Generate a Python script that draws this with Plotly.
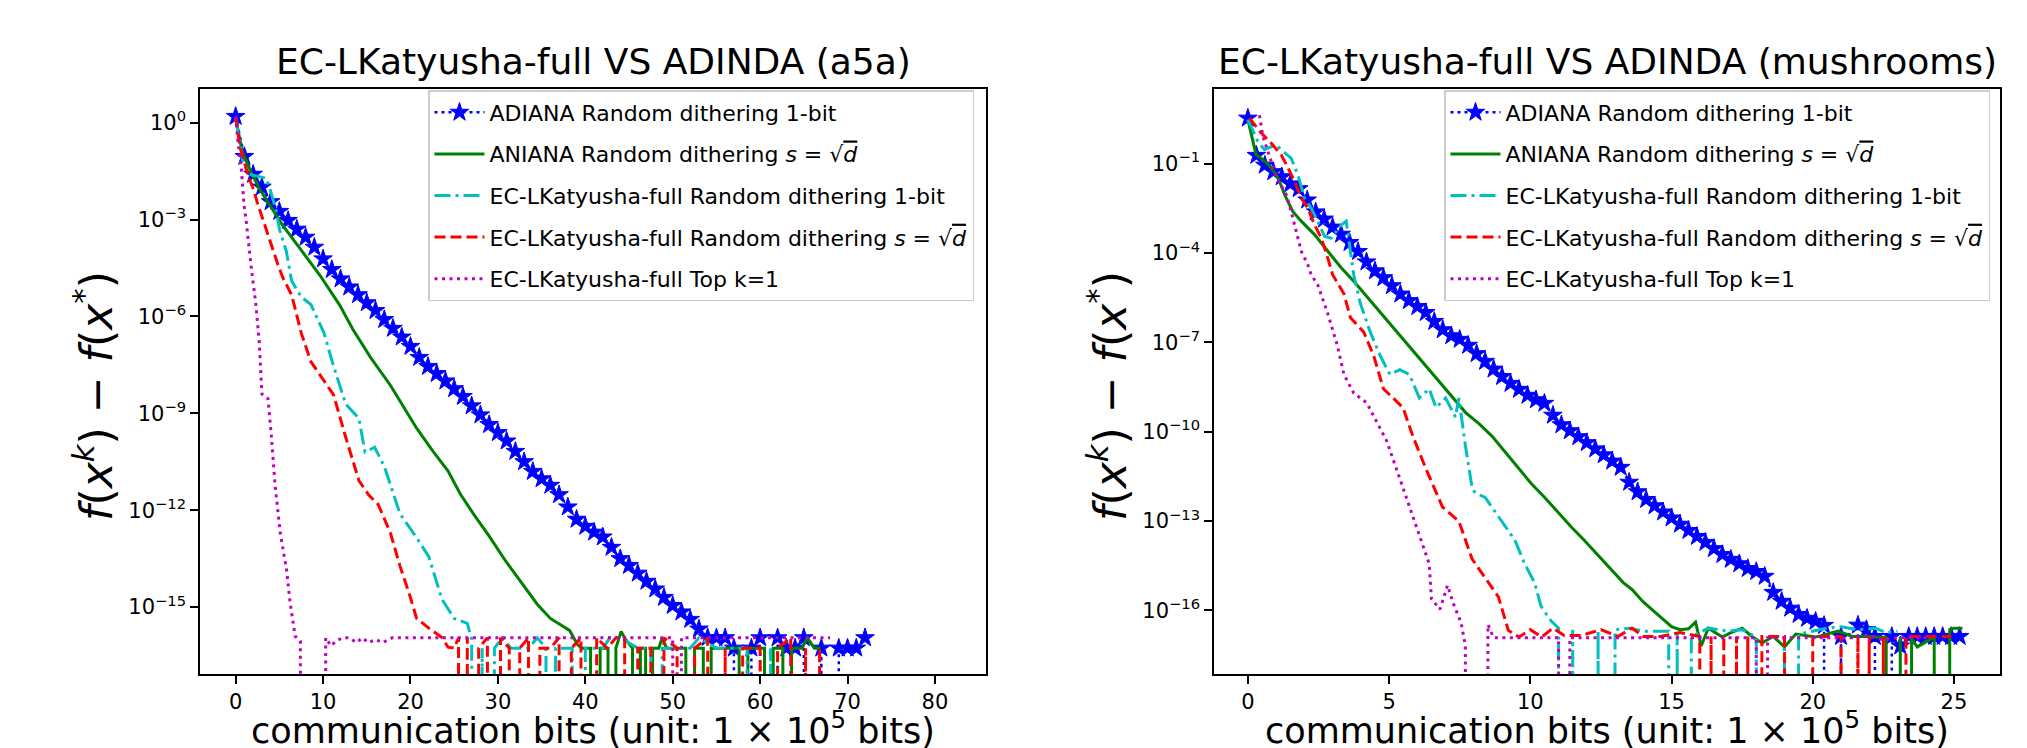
import plotly.graph_objects as go

W, H = 2027, 748
FONT = "DejaVu Sans"

# ---------------- data (log10 of f(x^k)-f(x*)) ----------------
# None marks a non-positive value (drawn clipped to the bottom of the log axis, like matplotlib)

SERIES_NAMES = [
    "ADIANA Random dithering 1-bit",
    "ANIANA Random dithering <i>s</i> = √<span style='text-decoration:overline'><i>d</i></span>",
    "EC-LKatyusha-full Random dithering 1-bit",
    "EC-LKatyusha-full Random dithering <i>s</i> = √<span style='text-decoration:overline'><i>d</i></span>",
    "EC-LKatyusha-full Top k=1",
]

TITLES = ["EC-LKatyusha-full VS ADINDA (a5a)", "EC-LKatyusha-full VS ADINDA (mushrooms)"]
XLABEL = "communication bits (unit: 1 × 10<sup>5</sup> bits)"
YLABEL = "<i>f</i>(<i>x</i><sup><i>k</i></sup>) − <i>f</i>(<i>x</i><sup>*</sup>)"

# ---- a5a ----
A5A_ADIANA_X = [0, 1, 2, 3, 4, 5, 6, 7, 8, 9, 10, 11, 12, 13, 14, 15, 16, 17, 18, 19, 20,
                21, 22, 23, 24, 25, 26, 27, 28, 29, 30, 31, 32, 33, 34, 35, 36, 37, 38, 39, 40,
                41, 42, 43, 44, 45, 46, 47, 48, 49, 50, 51, 52, 53, 54, 55, 56, 57, 58, 59, 60,
                61, 62, 63, 64, 65, 66, 67, 68, 69, 70, 71, 72]
A5A_ADIANA_LOG = [0.19, -1.05, -1.6, -2.0, -2.45, -2.75, -3.03, -3.3, -3.55, -3.86, -4.22,
                  -4.55, -4.84, -5.09, -5.33, -5.58, -5.82, -6.1, -6.37, -6.64, -6.93,
                  -7.27, -7.55, -7.77, -8.0, -8.24, -8.48, -8.77, -9.05, -9.35, -9.6,
                  -9.86, -10.18, -10.5, -10.8, -11.03, -11.23, -11.52, -11.9, -12.28, -12.5,
                  -12.68, -12.83, -13.15, -13.5, -13.71, -13.95, -14.2, -14.44, -14.7, -14.95,
                  -15.15, -15.38, -15.68, -15.94, -15.95, -15.95, -16.27, None, -16.27, -15.95,
                  None, -15.95, -16.27, -16.27, -15.95, None, -16.27, None, -16.27, -16.27,
                  -16.27, -15.95]

A5A_ANIANA_X = [0, 0.7, 1.7, 2.8, 3.9, 5.3, 7.5, 9.7, 11.9, 13.4, 15.5, 17.7, 20.7, 22.5, 24.3,
                25.7, 27.2, 29.0, 30.9, 32.7, 34.5, 36.0, 37.2, 38.2, 39.1, 39.6, 40.6, 41.2,
                41.7, 42.6, 43.0, 43.5, 44.1, 44.6, 45.4, 45.9, 46.3, 46.9, 47.3, 47.7, 48.4,
                48.8, 49.3, 51.5, 52.0, 52.5, 53.5, 54.0, 54.4, 57.6, 58.1, 58.6, 60.5, 61.0,
                61.5, 62.6, 63.1, 63.6, 64.8, 65.4, 66.2, 66.9]
A5A_ANIANA_LOG = [0.15, -0.84, -1.5, -2.09, -2.55, -3.15, -3.95, -4.75, -5.65, -6.4, -7.3, -8.13,
                  -9.46, -10.15, -10.79, -11.5, -12.11, -12.8, -13.58, -14.25, -14.91, -15.35,
                  -15.55, -15.72, -16.16, -16.27, -16.27, None, -16.27, -16.27, None, -16.27,
                  -15.75, -16.0, -16.27, None, -16.27, -16.27, None, -16.27, -16.27, -15.95,
                  -16.27, -16.27, None, -16.27, -16.27, None, -16.27, -16.27, None, -16.27,
                  -16.27, None, -16.27, -16.27, None, -16.27, -16.27, -15.95, -16.27, -16.27]

A5A_ECL_1BIT_X = [0, 0.26, 0.84, 1.79, 3.5, 3.9, 4.65, 5.03, 5.8, 6.4, 7.5, 8.6, 10.1, 11.2, 12.6,
                  14.1, 14.8, 15.9, 17.0, 18.8, 20.7, 22.1, 23.6, 25.0, 26.5, 27.0, 27.3, 28.2,
                  29.0, 29.6, 30.5, 31.5, 33.5, 34.5, 35.5, 36.0, 36.6, 38.5, 39.4, 40.0, 42.0,
                  42.8, 44.0, 46.0, 47.5, 48.2, 48.8, 50.0, 52.0, 53.0, 55.0, 57.0, 58.5, 60.6,
                  61.2, 62.0]
A5A_ECL_1BIT_LOG = [0.14, -0.27, -1.25, -1.62, -1.72, -2.03, -2.75, -3.32, -3.99, -4.9, -5.4,
                    -5.63, -6.51, -7.54, -8.72, -9.16, -10.2, -10.05, -10.64, -12.11, -12.85,
                    -13.44, -14.76, -15.35, -15.5, -16.0, None, -16.27, None, -16.27, -15.95,
                    -16.27, -16.27, -15.95, -16.27, None, -16.27, -16.27, None, -16.27, -16.27,
                    -15.95, -15.95, -16.27, -16.27, None, -16.27, -16.27, -16.27, -15.95,
                    -16.27, -16.27, -16.27, None, -16.27, None]

A5A_ECL_SQRT_X = [0, 0.45, 1.4, 1.98, 2.55, 3.3, 4.07, 4.84, 5.41, 6.4, 7.5, 8.6, 10.1, 11.2, 12.6,
                  14.1, 15.2, 16.3, 17.7, 18.8, 19.9, 20.7, 22.1, 23.6, 24.3, 25.0, 25.5, 25.7,
                  26.5, 27.2, 27.8, 28.8, 29.6, 30.3, 31.3, 31.9, 32.5, 33.5, 34.2, 34.8, 36.0,
                  37.0, 37.8, 38.4, 39.5, 40.6, 41.3, 42.5, 43.5, 44.5, 45.3, 46.0, 47.5, 48.3,
                  49.0, 50.5, 51.7, 52.5, 54.0, 55.2, 56.0, 57.2, 58.0, 60.0, 61.2, 62.0, 63.5,
                  64.6, 65.2, 66.0, 66.8, 67.8]
A5A_ECL_SQRT_LOG = [0.19, -0.69, -1.62, -2.03, -2.54, -3.16, -3.78, -4.4, -4.81, -5.33, -6.51,
                    -7.4, -7.99, -8.43, -9.75, -11.08, -11.52, -11.82, -12.7, -13.73, -14.62,
                    -15.35, -15.65, -15.94, -16.24, -16.27, -15.95, None, -15.95, None, -16.27,
                    -15.95, None, -15.95, -16.27, None, -16.27, -15.95, None, -16.27, -16.27,
                    -15.95, None, -16.27, -15.95, None, -15.95, -16.27, -15.95, -15.95, None,
                    -16.27, -16.27, None, -15.95, -16.27, None, -16.27, -15.95, None, -16.27,
                    None, -16.27, -16.27, None, -16.27, -15.95, None, -16.27, None, -16.27, None]

A5A_TOPK_X = [0, 0.26, 0.64, 0.95, 1.21, 1.41, 1.79, 2.3, 2.7, 3.0, 3.7, 4.1, 4.5, 5.1, 5.85, 6.2,
              6.8, 7.4, 7.9, 10.2, 10.3, 10.9, 11.5, 12.2, 13.0, 13.8, 14.5, 15.2, 16.0, 16.8,
              17.9, 24.0, 30.0, 36.0, 42.0, 48.0, 50.0, 50.5, 51.0, 56.0, 62.0, 66.0, 68.0]
A5A_TOPK_LOG = [0.19, -0.58, -1.41, -2.54, -3.06, -3.58, -4.5, -5.6, -6.8, -8.4, -8.55, -9.75,
                -11.2, -12.7, -13.9, -14.8, -15.9, -16.05, None, None, -15.95, -16.2, -16.05,
                -15.95, -15.95, -16.1, -15.95, -16.1, -16.0, -16.1, -15.95, -15.95, -15.95,
                -15.95, -15.95, -15.95, -15.95, None, -15.95, -15.95, -15.95, -15.95, -15.95]

# ---- mushrooms ----
MUSH_ADIANA_X = [0.0, 0.3, 0.6, 0.9, 1.2, 1.5, 1.8, 2.1, 2.4, 2.7, 3.0, 3.3, 3.6, 3.9, 4.2, 4.5,
                 4.8, 5.1, 5.4, 5.7, 6.0, 6.3, 6.6, 6.9, 7.2, 7.5, 7.8, 8.1, 8.4, 8.7, 9.0, 9.3,
                 9.6, 9.9, 10.2, 10.5, 10.8, 11.1, 11.4, 11.7, 12.0, 12.3, 12.6, 12.9, 13.2,
                 13.5, 13.8, 14.1, 14.4, 14.7, 15.0, 15.3, 15.6, 15.9, 16.2, 16.5, 16.8, 17.1,
                 17.4, 17.7, 18.0, 18.3, 18.6, 18.9, 19.2, 19.5, 19.8, 20.1, 20.4, 20.7, 21.0,
                 21.3, 21.6, 21.9, 22.2, 22.5, 22.8, 23.1, 23.4, 23.7, 24.0, 24.3, 24.6, 24.9,
                 25.2]
MUSH_ADIANA_LOG = [0.53, -0.72, -1.05, -1.27, -1.44, -1.68, -1.84, -2.22, -2.62, -2.86, -3.13,
                   -3.37, -3.65, -3.95, -4.3, -4.6, -4.83, -5.1, -5.38, -5.6, -5.8, -6.0, -6.3,
                   -6.58, -6.78, -6.9, -7.1, -7.38, -7.64, -7.9, -8.15, -8.38, -8.58, -8.78,
                   -8.93, -9.05, -9.45, -9.77, -9.97, -10.17, -10.37, -10.58, -10.78, -10.99,
                   -11.2, -11.7, -12.02, -12.28, -12.49, -12.7, -12.9, -13.11, -13.32, -13.52,
                   -13.72, -13.93, -14.13, -14.29, -14.44, -14.6, -14.7, -14.86, -15.4, -15.7,
                   -15.93, -16.14, -16.27, -16.37, -16.51, None, -16.88, None, -16.5, -16.65,
                   -16.88, None, -16.88, -17.2, -16.88, -16.88, -16.88, -16.88, -16.88, -16.88,
                   -16.88]

MUSH_ANIANA_X = [0, 0.29, 0.47, 0.75, 1.0, 1.12, 1.3, 1.59, 1.89, 2.36, 2.83, 3.31, 3.75, 4.2,
                 4.68, 5.25, 5.84, 6.4, 7.0, 7.7, 8.2, 8.64, 9.3, 10.03, 10.5, 10.96, 11.45, 11.9,
                 12.4, 12.83, 13.29, 13.6, 13.99, 14.4, 14.7, 15.0, 15.3, 15.6, 15.85, 16.05,
                 16.3, 16.8, 17.1, 17.5, 17.85, 18.2, 18.6, 19.0, 19.4, 19.7, 20.1, 20.5, 20.9,
                 21.4, 22.0, 22.6, 22.8, 23.1, 23.3, 23.5, 23.7, 24.3, 24.75, 24.85, 25.0, 25.3]
MUSH_ANIANA_LOG = [0.48, -0.7, -0.81, -1.05, -1.37, -1.59, -2.04, -2.6, -2.93, -3.38, -3.94,
                   -4.5, -4.95, -5.45, -6.01, -6.65, -7.28, -7.9, -8.56, -9.35, -9.75, -10.15,
                   -10.9, -11.74, -12.2, -12.69, -13.2, -13.64, -14.15, -14.6, -15.07, -15.3,
                   -15.71, -16.05, -16.3, -16.55, -16.65, -16.62, -16.4, -17.2, -16.6, -16.9,
                   -16.75, -16.6, -16.88, -17.1, -16.88, -17.23, -16.8, -16.85, -16.9, -16.8,
                   -16.7, -16.88, -16.88, -16.92, None, -16.9, None, -16.95, -17.23, -16.9, None,
                   -16.65, -16.6, -16.6]

MUSH_ECL_1BIT_X = [0, 0.35, 0.59, 1.0, 1.18, 1.53, 1.77, 2.0, 2.24, 2.5, 2.72, 2.95, 3.31, 3.48,
                   3.6, 3.75, 3.98, 4.33, 4.68, 5.03, 5.38, 5.72, 6.07, 6.42, 6.66, 7.0, 7.35,
                   7.47, 7.7, 7.94, 8.05, 8.4, 8.87, 9.45, 9.8, 10.15, 10.38, 10.73, 11.0, 11.2,
                   11.5, 12.1, 12.4, 12.65, 13.0, 13.5, 14.0, 14.9, 15.04, 15.2, 15.4, 15.7, 16.3,
                   17.0, 17.5, 18.0, 18.8, 19.0, 19.2, 19.5, 20.0, 20.5, 21.0, 21.6, 22.2, 22.6,
                   23.0]
MUSH_ECL_1BIT_LOG = [0.48, -0.25, -0.53, -0.36, -0.53, -0.81, -1.37, -2.15, -2.49, -3.0, -3.44,
                     -3.5, -3.05, -2.93, -3.8, -4.74, -5.69, -6.65, -7.44, -8.08, -7.92, -8.08,
                     -8.87, -8.56, -9.19, -8.87, -9.51, -8.87, -10.46, -11.9, -12.06, -12.21,
                     -12.85, -13.64, -14.44, -15.07, -15.87, -16.35, -16.6, None, -16.65, None,
                     -16.7, None, -16.65, -16.6, -16.7, -16.7, None, -16.75, None, -16.9, -16.6,
                     -16.7, -16.65, -16.9, None, -16.9, None, -16.8, -16.7, -16.6, -16.55,
                     -16.65, -16.6, -16.75, -16.7]

MUSH_ECL_SQRT_X = [0.06, 0.47, 0.77, 1.18, 1.42, 1.65, 1.89, 2.12, 2.36, 2.6, 2.83, 3.0, 3.4,
                   3.63, 4.1, 4.45, 4.8, 5.14, 5.49, 5.84, 6.31, 6.89, 7.47, 7.94, 8.52, 8.87,
                   9.22, 9.6, 10.0, 10.4, 10.8, 11.2, 11.8, 12.5, 13.1, 13.6, 14.0, 14.6, 15.3,
                   16.0, 16.15, 16.4, 16.6, 16.85, 17.1, 17.3, 17.5, 17.7, 17.85, 18.2, 19.0,
                   19.75, 20.0, 21.0, 21.5, 21.6, 21.7, 22.0, 22.2, 22.5, 22.95, 23.3, 24.0, 24.9]
MUSH_ECL_SQRT_LOG = [0.53, 0.03, -0.25, -0.7, -1.14, -1.59, -2.15, -2.49, -3.05, -3.5, -4.17,
                     -4.73, -5.37, -6.17, -6.65, -7.44, -8.56, -8.87, -9.19, -10.15, -11.26,
                     -12.53, -13.01, -14.28, -15.07, -15.55, -16.67, -16.9, -16.65, -16.9, -16.6,
                     -16.85, -16.85, -16.65, -16.88, -16.6, -16.88, -16.88, -16.75, -16.88, None,
                     -16.88, None, -16.88, None, -16.88, None, -16.88, None, -16.88, -16.88,
                     None, -16.88, -16.88, None, -16.88, None, -16.88, None, -16.88, None,
                     -16.88, -16.88, -16.88]

MUSH_TOPK_X = [0.41, 0.53, 1.0, 1.36, 1.53, 1.65, 1.89, 2.12, 2.24, 2.47, 2.82, 3.17, 3.4, 3.75,
               4.21, 4.56, 4.91, 5.38, 5.72, 6.07, 6.42, 6.5, 6.8, 7.07, 7.26, 7.55, 7.7, 7.83,
               8.4, 8.5, 8.7, 10.0, 11.0, 11.2, 11.4, 14.0, 17.0, 18.0, 18.2, 18.4, 20.0, 21.4,
               22.0, 22.5, 23.0, 24.2]
MUSH_TOPK_LOG = [0.63, -0.08, -1.42, -2.04, -2.6, -3.05, -3.94, -4.39, -4.73, -5.06, -6.01,
                 -7.12, -8.08, -8.71, -9.03, -9.67, -10.3, -11.58, -12.53, -13.49, -14.44,
                 -15.62, -15.97, -15.16, -15.74, -16.42, -17.2, None, None, -16.48, -16.92,
                 -16.92, -16.92, None, -16.92, -16.92, -16.92, -16.92, None, -16.92, -16.92,
                 -16.92, -16.85, -17.0, -16.92, -16.92]

A5A_DATA = [(A5A_ADIANA_X, A5A_ADIANA_LOG), (A5A_ANIANA_X, A5A_ANIANA_LOG),
            (A5A_ECL_1BIT_X, A5A_ECL_1BIT_LOG), (A5A_ECL_SQRT_X, A5A_ECL_SQRT_LOG),
            (A5A_TOPK_X, A5A_TOPK_LOG)]
MUSH_DATA = [(MUSH_ADIANA_X, MUSH_ADIANA_LOG), (MUSH_ANIANA_X, MUSH_ANIANA_LOG),
             (MUSH_ECL_1BIT_X, MUSH_ECL_1BIT_LOG), (MUSH_ECL_SQRT_X, MUSH_ECL_SQRT_LOG),
             (MUSH_TOPK_X, MUSH_TOPK_LOG)]

X_TICKS = [[0, 10, 20, 30, 40, 50, 60, 70, 80], [0, 5, 10, 15, 20, 25]]
Y_TICK_EXP = [[0, -3, -6, -9, -12, -15], [-1, -4, -7, -10, -13, -16]]

# ---------------- styles ----------------
STYLES = [
    dict(color="#0000ff", dash="3px,4px", width=2.5, marker=True),
    dict(color="#008000", dash="solid", width=3, marker=False),
    dict(color="#00bfbf", dash="16px,5px,3px,5px", width=3, marker=False),
    dict(color="#ff0000", dash="11px,5px", width=3, marker=False),
    dict(color="#bf00bf", dash="3px,4.5px", width=3, marker=False),
]
CLIP = 1e-300  # non-positive values clipped far below the axis


def vals(logs):
    return [CLIP if v is None else 10 ** v for v in logs]


def px(x):
    return x / W


def py(y):
    return 1 - y / H


fig = go.Figure()
for panel, (data, xa, ya, leg) in enumerate([(A5A_DATA, "x", "y", "legend"),
                                              (MUSH_DATA, "x2", "y2", "legend2")]):
    for i, ((xs, logs), st) in enumerate(zip(data, STYLES)):
        fig.add_trace(go.Scatter(
            x=xs, y=vals(logs), xaxis=xa, yaxis=ya,
            mode="lines+markers" if st["marker"] else "lines",
            name=SERIES_NAMES[i], legend=leg, legendgroup=f"{leg}_{i}",
            line=dict(color=st["color"], dash=st["dash"], width=st["width"]),
            marker=dict(symbol="star", size=14, color=st["color"],
                        line=dict(color=st["color"], width=1)) if st["marker"] else None,
            cliponaxis=True,
        ))

AX_L = [(192, 978), (1206, 1992)]
AX_TOP, AX_BOT = 81, 666
X_RANGES = [[-4.08, 85.84], [-1.2, 26.63]]
Y_RANGES = [[-17.07, 1.04], [-18.14, 1.51]]

common_axis = dict(showline=True, mirror=True, linecolor="black", linewidth=1.5,
                   ticks="outside", ticklen=8, tickwidth=1.5, tickcolor="black",
                   showgrid=False, zeroline=False,
                   tickfont=dict(family=FONT, size=21, color="black"))

layout = dict(
    width=W, height=H, margin=dict(l=0, r=0, t=0, b=0),
    paper_bgcolor="white", plot_bgcolor="white",
    font=dict(family=FONT, color="black"),
)
for k in range(2):
    sx = "" if k == 0 else "2"
    layout["xaxis" + sx] = dict(
        common_axis, domain=[px(AX_L[k][0]), px(AX_L[k][1])], range=X_RANGES[k],
        anchor="y" + sx, tickmode="array", tickvals=X_TICKS[k],
        ticktext=[str(t) for t in X_TICKS[k]])
    layout["yaxis" + sx] = dict(
        common_axis, domain=[py(AX_BOT), py(AX_TOP)], type="log", range=Y_RANGES[k],
        anchor="x" + sx, tickmode="array", tickvals=[10.0 ** e for e in Y_TICK_EXP[k]],
        ticktext=["10<sup>" + str(e).replace("-", "−") + "</sup>" for e in Y_TICK_EXP[k]])

legend_common = dict(xanchor="right", yanchor="top", y=py(82),
                     bgcolor="rgba(255,255,255,0.8)", bordercolor="#cccccc", borderwidth=1.5,
                     font=dict(family=FONT, size=22, color="black"),
                     tracegroupgap=10, itemwidth=50, traceorder="grouped")
layout["legend"] = dict(legend_common, x=px(966))
layout["legend2"] = dict(legend_common, x=px(1982))

annotations = []
for k in range(2):
    cx = (AX_L[k][0] + AX_L[k][1]) / 2
    annotations.append(dict(text=TITLES[k], x=px(cx), y=py(54), xref="paper", yref="paper",
                            xanchor="center", yanchor="middle", showarrow=False,
                            font=dict(family=FONT, size=36, color="black")))
    annotations.append(dict(text=XLABEL, x=px(cx), y=py(720), xref="paper", yref="paper",
                            xanchor="center", yanchor="middle", showarrow=False,
                            font=dict(family=FONT, size=35, color="black")))
    annotations.append(dict(text=YLABEL, x=px(AX_L[k][0] - 107), y=py(388), xref="paper",
                            yref="paper", xanchor="center", yanchor="middle", showarrow=False,
                            textangle=-90, font=dict(family=FONT, size=44, color="black")))
layout["annotations"] = annotations

fig.update_layout(**layout)
fig.write_html("out.html")
